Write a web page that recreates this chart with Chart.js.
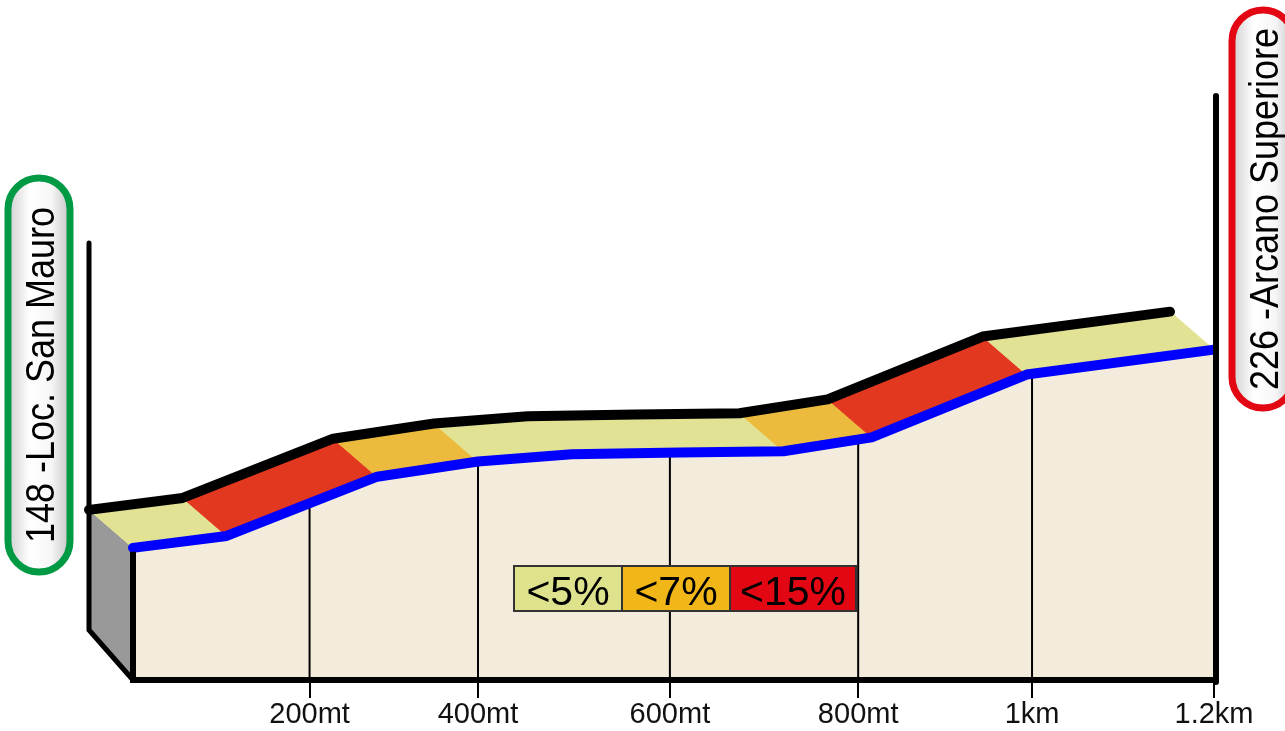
<!doctype html>
<html lang="it">
<head>
  <meta charset="utf-8">
  <script src="https://cdn.jsdelivr.net/npm/chart.js"></script>
  <style>
    * {
      margin: 0;
      padding: 0;
    }

    body {
      background: #fff;
    }

    .chartBox {
      width: 1285px;
      height: 731px;
      position: relative;
    }
  </style>
</head>
<body>
<div class="chartBox">
  <canvas id="profile"></canvas>
</div>
<script>
  // profile points: distance (m) and altitude (m)
  const distances = [0, 104, 271, 383, 487, 607, 722, 820, 992, 1200]
  const altitudes = [148, 152.7, 176, 182.0, 184.8, 185.5, 186.0, 191.5, 216.2, 226]
  // grade band of each stretch between two points
  const grades = ['<5%', '<15%', '<7%', '<5%', '<5%', '<5%', '<7%', '<15%', '<5%']
  const tickDistances = [196, 383, 596, 805, 998, 1200]
  const tickLabels = ['200mt', '400mt', '600mt', '800mt', '1km', '1.2km']
  const legendLabels = ['<5%', '<7%', '<15%']
  const startName = '148 -Loc. San Mauro'
  const endName = '226 -Arcano Superiore'

  const surfaceColors = { '<5%': '#e2e294', '<7%': '#ecbb3e', '<15%': '#e2381f' }
  const legendColors = { '<5%': '#dee28c', '<7%': '#f1b719', '<15%': '#e30613' }
  const FONT = '"Liberation Sans", Arial, sans-serif'

  // fake 3d depth of the road surface (pixels)
  const depth = { dx: -44, dy: -38, base: -50 }
  const poleHeight = 105

  const points = distances.map((d, i) => ({ x: d, y: altitudes[i] }))

  function px(chart, i) {
    return [chart.scales.x.getPixelForValue(distances[i]), chart.scales.y.getPixelForValue(altitudes[i])]
  }

  function altitudeAt(d) {
    for (let i = 0; i < distances.length - 1; i++) {
      if (d >= distances[i] && d <= distances[i + 1]) {
        const t = (d - distances[i]) / (distances[i + 1] - distances[i])
        return altitudes[i] + t * (altitudes[i + 1] - altitudes[i])
      }
    }
    return altitudes[altitudes.length - 1]
  }

  function drawPill(ctx, left, top, w, h, color, text) {
    const r = w / 2
    ctx.save()
    const g = ctx.createLinearGradient(left, 0, left + w, 0)
    g.addColorStop(0, '#cfcfcf')
    g.addColorStop(0.35, '#ffffff')
    g.addColorStop(0.7, '#f6f6f6')
    g.addColorStop(1, '#c4c4c4')
    ctx.beginPath()
    ctx.moveTo(left, top + r)
    ctx.arc(left + r, top + r, r, Math.PI, 0)
    ctx.lineTo(left + w, top + h - r)
    ctx.arc(left + r, top + h - r, r, 0, Math.PI)
    ctx.closePath()
    ctx.fillStyle = g
    ctx.fill()
    ctx.lineWidth = 7
    ctx.strokeStyle = color
    ctx.stroke()

    const fs = 36
    ctx.translate(left + w / 2, top + h / 2)
    ctx.rotate(-Math.PI / 2)
    ctx.scale(1, 1.12)
    ctx.font = fs + 'px ' + FONT
    ctx.fillStyle = '#000'
    ctx.textAlign = 'center'
    ctx.textBaseline = 'alphabetic'
    ctx.fillText(text, 0, fs * 0.36)
    ctx.restore()
  }

  const profile3d = {
    id: 'profile3d',
    beforeDatasetsDraw(chart) {
      const ctx = chart.ctx
      const area = chart.chartArea
      const n = distances.length
      const f0 = px(chart, 0)
      ctx.save()
      // left side face
      ctx.fillStyle = '#999999'
      ctx.beginPath()
      ctx.moveTo(f0[0], f0[1])
      ctx.lineTo(f0[0] + depth.dx, f0[1] + depth.dy)
      ctx.lineTo(f0[0] + depth.dx, area.bottom + depth.base)
      ctx.lineTo(f0[0], area.bottom)
      ctx.closePath()
      ctx.fill()

      // road surface coloured by grade
      for (let i = 0; i < n - 1; i++) {
        const a = px(chart, i)
        const b = px(chart, i + 1)
        ctx.fillStyle = surfaceColors[grades[i]]
        ctx.strokeStyle = surfaceColors[grades[i]]
        ctx.lineWidth = 1
        ctx.beginPath()
        ctx.moveTo(a[0], a[1])
        ctx.lineTo(b[0], b[1])
        ctx.lineTo(b[0] + depth.dx, b[1] + depth.dy)
        ctx.lineTo(a[0] + depth.dx, a[1] + depth.dy)
        ctx.closePath()
        ctx.fill()
        ctx.stroke()
      }

      // back edge
      ctx.strokeStyle = '#000'
      ctx.lineWidth = 10
      ctx.lineJoin = 'round'
      ctx.lineCap = 'round'
      ctx.beginPath()
      for (let i = 0; i < n; i++) {
        const p = px(chart, i)
        if (i === 0) ctx.moveTo(p[0] + depth.dx, p[1] + depth.dy)
        else ctx.lineTo(p[0] + depth.dx, p[1] + depth.dy)
      }
      ctx.stroke()
      ctx.restore()
    },
    afterDatasetDraw(chart, args) {
      if (args.index !== 0) return
      // distance lines on the front face
      const ctx = chart.ctx
      const area = chart.chartArea
      ctx.save()
      ctx.strokeStyle = '#000'
      ctx.lineWidth = 2
      tickDistances.slice(0, -1).forEach(d => {
        const x = chart.scales.x.getPixelForValue(d)
        const y = chart.scales.y.getPixelForValue(altitudeAt(d))
        ctx.beginPath()
        ctx.moveTo(x, y)
        ctx.lineTo(x, area.bottom)
        ctx.stroke()
      })
      ctx.restore()
    },
    afterDatasetsDraw(chart) {
      const ctx = chart.ctx
      const area = chart.chartArea
      const n = distances.length
      const f0 = px(chart, 0)
      const fn = px(chart, n - 1)
      ctx.save()
      ctx.strokeStyle = '#000'
      ctx.lineJoin = 'miter'
      // left pole and side face outline
      ctx.lineWidth = 5
      ctx.lineCap = 'round'
      ctx.beginPath()
      ctx.moveTo(f0[0] + depth.dx, chart.scales.y.getPixelForValue(altitudes[0] + poleHeight) + depth.dy)
      ctx.lineTo(f0[0] + depth.dx, area.bottom + depth.base)
      ctx.lineTo(f0[0], area.bottom)
      ctx.stroke()
      ctx.lineCap = 'butt'
      ctx.lineWidth = 6
      ctx.beginPath()
      ctx.moveTo(f0[0], f0[1] + 4)
      ctx.lineTo(f0[0], area.bottom)
      ctx.stroke()
      // right pole
      ctx.lineCap = 'round'
      ctx.beginPath()
      ctx.moveTo(fn[0] + 2, area.top + 3)
      ctx.lineTo(fn[0] + 2, area.bottom + 2)
      ctx.stroke()
      ctx.restore()
    },
    afterDraw(chart) {
      const ctx = chart.ctx
      // grade legend
      const widths = [108, 108, 126]
      let x = 514
      const top = 566
      const h = 45
      ctx.save()
      ctx.font = '41px ' + FONT
      ctx.textAlign = 'center'
      ctx.textBaseline = 'alphabetic'
      legendLabels.forEach((lab, i) => {
        ctx.fillStyle = legendColors[lab]
        ctx.fillRect(x, top, widths[i], h)
        ctx.strokeStyle = '#333'
        ctx.lineWidth = 2
        ctx.strokeRect(x, top, widths[i], h)
        ctx.fillStyle = '#000'
        ctx.fillText(lab, x + widths[i] / 2, top + h / 2 + 16)
        x += widths[i]
      })
      ctx.restore()

      // start / end names
      drawPill(ctx, 8, 178, 62, 394, '#009a44', startName)
      drawPill(ctx, 1232, 10, 62, 398, '#e30613', endName)
    }
  }

  const data = {
    datasets: [{
      label: 'face',
      data: points,
      fill: 'start',
      backgroundColor: '#f3ecdd',
      borderWidth: 0,
      pointRadius: 0,
      order: 2,
      clip: false
    }, {
      label: 'edge',
      data: points,
      fill: false,
      borderColor: '#0000ff',
      borderWidth: 10,
      borderCapStyle: 'round',
      borderJoinStyle: 'round',
      pointRadius: 0,
      order: 1,
      clip: false
    }]
  }

  const config = {
    type: 'line',
    data,
    options: {
      responsive: true,
      maintainAspectRatio: false,
      animation: false,
      layout: {
        padding: { left: 133, right: 71, top: 93, bottom: 0 }
      },
      plugins: {
        legend: { display: false },
        tooltip: { enabled: false }
      },
      scales: {
        x: {
          type: 'linear',
          min: 0,
          max: 1200,
          afterBuildTicks: scale => {
            scale.ticks = tickDistances.map(v => ({ value: v }))
          },
          afterFit: scale => {
            scale.height = 51
          },
          ticks: {
            autoSkip: false,
            maxRotation: 0,
            padding: 0,
            color: '#111',
            font: { family: FONT, size: 29 },
            callback: (v, i) => tickLabels[i]
          },
          grid: {
            drawOnChartArea: false,
            tickLength: 18,
            color: '#000',
            lineWidth: 2
          },
          border: { display: true, color: '#000', width: 6, z: 1 }
        },
        y: {
          display: false,
          min: 96,
          max: 327
        }
      }
    },
    plugins: [profile3d]
  }

  const myChart = new Chart(document.getElementById('profile'), config)
</script>
</body>
</html>
